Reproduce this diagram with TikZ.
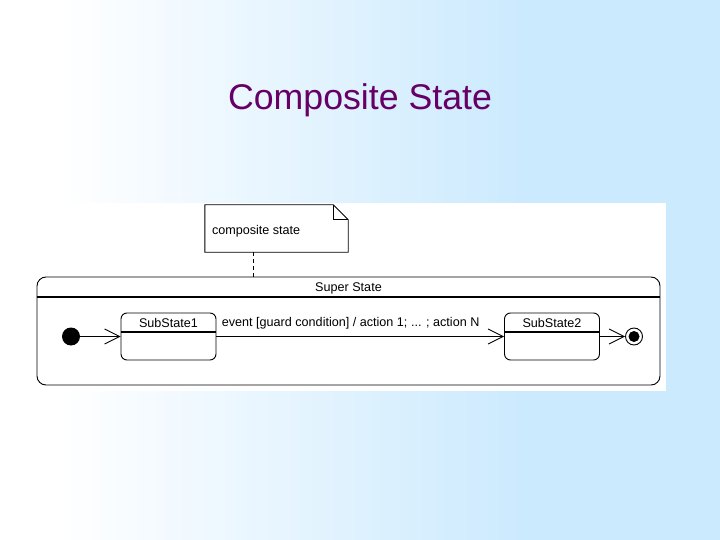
\documentclass[tikz,border=0pt]{standalone}
\usepackage{fontspec}
\setmainfont{Liberation Sans}
\usetikzlibrary{arrows.meta,positioning}

\definecolor{titlepurple}{RGB}{102,0,102}
\definecolor{slideblue}{RGB}{204,234,254}

\begin{document}
\begin{tikzpicture}[
  x=1pt, y=-1pt,
  every node/.style={font=\fontsize{12.6}{14}\selectfont, inner sep=0pt},
  substate/.style={rectangle, rounded corners=6pt, draw=black, line width=0.9pt, minimum width=95pt, minimum height=47pt},
  superstate/.style={rectangle, rounded corners=9pt, draw=black, line width=0.9pt, fill=white, minimum width=623pt, minimum height=108pt},
  notebox/.style={rectangle, minimum width=143pt, minimum height=47pt},
  initstate/.style={circle, fill=black, minimum size=18pt},
  finalstate/.style={circle, draw=black, line width=0.9pt, fill=white, minimum size=17pt,
    path picture={\fill[black] (path picture bounding box.center) circle (5.5pt);}},
  divider/.style={line width=2pt},
  trans/.style={-{Straight Barb[length=15pt, width=15pt, line width=0.9pt]}, line width=0.9pt}
]
\useasboundingbox (0,0) rectangle (720,540);

% slide background
\fill[white] (0,0) rectangle (60,540);
\shade[left color=white, right color=slideblue] (60,0) rectangle (520,540);
\fill[slideblue] (520,0) rectangle (720,540);
\fill[white] (33,203) rectangle (666,391);

\node[font=\fontsize{35.7}{40}\selectfont, text=titlepurple] (title) at (360,100) {Composite State};

% note
\node[notebox] (note) at (276.5,228.5) {};
\filldraw[fill=white, line width=0.9pt] (note.north west) -- ([xshift=-15pt]note.north east)
  -- ([yshift=-15pt]note.north east) -- (note.south east) -- (note.south west) -- cycle;
\draw[line width=0.9pt] ([xshift=-15pt]note.north east) |- ([yshift=-15pt]note.north east);
\node[right=7pt of note.west, yshift=-2.5pt] (notelabel) {composite state};

% super state
\node[superstate] (super) at (348.5,331) {};
\node[below=6pt of super.north] (superlabel) {Super State};
\draw[divider] ([yshift=-20pt]super.north west) -- ([yshift=-20pt]super.north east);

\coordinate (notefoot) at (253,252);
\draw[dashed, dash pattern=on 4pt off 3pt, line width=0.9pt] (notefoot) -- (notefoot |- super.north);

% sub states
\node[substate] (sub1) at (168.5,336.5) {};
\node[below=6pt of sub1.north] (sub1label) {SubState1};
\draw[divider] ([yshift=-19pt]sub1.north west) -- ([yshift=-19pt]sub1.north east);

\node[substate] (sub2) at (552,336.5) {};
\node[below=6pt of sub2.north] (sub2label) {SubState2};
\draw[divider] ([yshift=-19pt]sub2.north west) -- ([yshift=-19pt]sub2.north east);

\node[initstate] (init) at (71,336.5) {};
\node[finalstate] (final) at (634,336.5) {};

\draw[trans] (init) -- (sub1);
\draw[trans] (sub1) -- node[pos=0, anchor=south west, xshift=5pt, yshift=7pt] (translabel) {event [guard condition] / action 1; ... ; action N} (sub2);
\draw[trans] (sub2) -- (final);

\end{tikzpicture}
\end{document}
